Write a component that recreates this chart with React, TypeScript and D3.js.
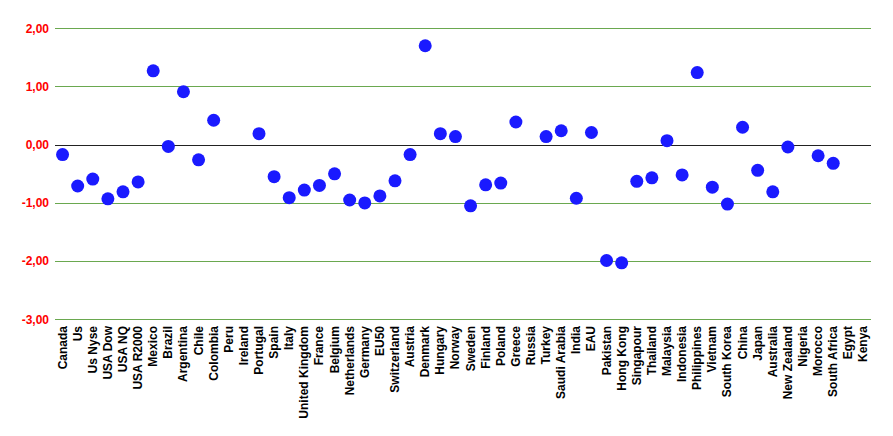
import * as d3 from "d3";
import { useEffect, useRef } from "react";

const countries = [
  "Canada", "Us", "Us Nyse", "USA Dow", "USA NQ", "USA R2000", "Mexico", "Brazil",
  "Argentina", "Chile", "Colombia", "Peru", "Ireland", "Portugal", "Spain", "Italy",
  "United Kingdom", "France", "Belgium", "Netherlands", "Germany", "EU50", "Switzerland",
  "Austria", "Denmark", "Hungary", "Norway", "Sweden", "Finland", "Poland", "Greece",
  "Russia", "Turkey", "Saudi Arabia", "India", "EAU", "Pakistan", "Hong Kong", "Singapour",
  "Thailand", "Malaysia", "Indonesia", "Philippines", "Vietnam", "South Korea", "China",
  "Japan", "Australia", "New Zealand", "Nigeria", "Morocco", "South Africa", "Egypt", "Kenya",
];

const values: (number | null)[] = [
  -0.17, -0.71, -0.59, -0.93, -0.81, -0.64, 1.27, -0.03,
  0.91, -0.26, 0.42, null, null, 0.19, -0.55, -0.91,
  -0.78, -0.70, -0.50, -0.95, -1.00, -0.88, -0.62,
  -0.17, 1.70, 0.19, 0.14, -1.05, -0.69, -0.66, 0.39,
  null, 0.14, 0.24, -0.92, 0.21, -1.99, -2.03, -0.63,
  -0.57, 0.07, -0.52, 1.24, -0.73, -1.02, 0.30,
  -0.44, -0.81, -0.04, null, -0.19, -0.32, null, null,
];

const yTicks = [2, 1, 0, -1, -2, -3];

export default function App() {
  const ref = useRef<SVGSVGElement>(null);

  useEffect(() => {
    const width = 893;
    const height = 436;
    const left = 55;
    const right = 871;
    const top = 28.3;
    const bottom = 319.3;

    const svg = d3.select(ref.current);
    svg.selectAll("*").remove();
    svg.attr("width", width).attr("height", height);

    const x = d3.scaleBand<string>().domain(countries).range([left, right]);
    const y = d3.scaleLinear().domain([-3, 2]).range([bottom, top]);
    const fmt = (v: number) => v.toFixed(2).replace(".", ",");

    // grid
    svg.selectAll("line.grid")
      .data(yTicks)
      .enter()
      .append("line")
      .attr("x1", left)
      .attr("x2", right)
      .attr("y1", d => Math.round(y(d)) + 0.5)
      .attr("y2", d => Math.round(y(d)) + 0.5)
      .attr("stroke", d => (d === 0 ? "#222" : "#6aa84f"))
      .attr("stroke-width", 1);

    svg.selectAll("text.ytick")
      .data(yTicks)
      .enter()
      .append("text")
      .attr("x", 49)
      .attr("y", d => y(d))
      .attr("dy", "0.35em")
      .attr("text-anchor", "end")
      .attr("font-family", "Liberation Sans, Arial, sans-serif")
      .attr("font-size", 12)
      .attr("font-weight", "bold")
      .attr("fill", "#ff0000")
      .text(d => fmt(d));

    // category labels
    svg.selectAll("text.xlab")
      .data(countries)
      .enter()
      .append("text")
      .attr("transform", d => `translate(${x(d)! + x.bandwidth() / 2 + 4},326) rotate(-90)`)
      .attr("text-anchor", "end")
      .attr("font-family", "Liberation Sans, Arial, sans-serif")
      .attr("font-size", 12)
      .attr("font-weight", "bold")
      .attr("fill", "#000")
      .text(d => d);

    // dots
    const pts = countries
      .map((c, i) => ({ c, v: values[i] }))
      .filter(d => d.v !== null);

    svg.selectAll("circle.dot")
      .data(pts)
      .enter()
      .append("circle")
      .attr("cx", d => x(d.c)! + x.bandwidth() / 2)
      .attr("cy", d => y(d.v as number))
      .attr("r", 6.5)
      .attr("fill", "#1a1aff");
  }, []);

  return (
    <svg ref={ref} style={{ position: "absolute", left: 0, top: 0, background: "#fff" }} />
  );
}
